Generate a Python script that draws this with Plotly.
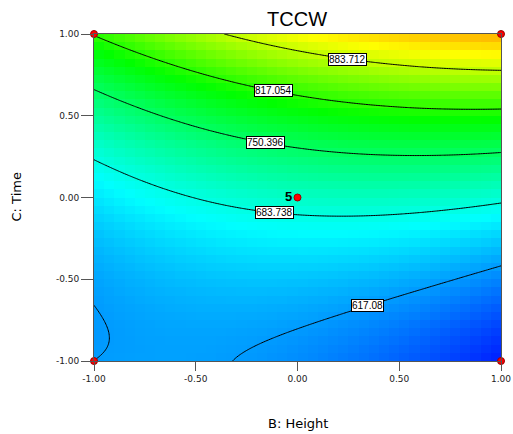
import numpy as np
import plotly.graph_objects as go

# Fitted quadratic response surface for TCCW in coded factors B (Height) and C (Time)
# TCCW = I + b*B + c*C + bc*B*C + bb*B^2 + cc*C^2
coef_I = 699.0
coef_B = 16.65
coef_C = 151.0
coef_BC = 50.0
coef_BB = -25.2
coef_CC = 61.0

contour_levels = [617.08, 683.738, 750.396, 817.054, 883.712]
label_B = [0.346, -0.115, -0.155, -0.12, 0.248]   # where each contour label sits along B

design_B = [-1, -1, 1, 1, 0]
design_C = [-1, 1, 1, -1, 0]
design_text = ["", "", "", "", "<b>5</b>"]

tick_vals = [-1, -0.5, 0, 0.5, 1]
tick_text = ["-1.00", "-0.50", "0.00", "0.50", "1.00"]


def model(B, C):
    return (coef_I + coef_B * B + coef_C * C + coef_BC * B * C
            + coef_BB * B ** 2 + coef_CC * C ** 2)


def solve_C(B, level):
    qa = coef_CC
    qb = coef_C + coef_BC * B
    qc = coef_I + coef_B * B + coef_BB * B ** 2 - level
    roots = np.roots([qa, qb, qc])
    roots = [r.real for r in roots if abs(r.imag) < 1e-9 and -1 <= r.real <= 1]
    return roots[0]


# blocky colour cells (like the original software's rendering)
ncell = 40
centers = -1 + (np.arange(ncell) + 0.5) * (2.0 / ncell)
BB, CC = np.meshgrid(centers, centers)
Zcell = model(BB, CC)

# fine grid for smooth contour lines
fine = np.linspace(-1, 1, 241)
FB, FC = np.meshgrid(fine, fine)
Zfine = model(FB, FC)

colorscale = [
    [0.0, "rgb(0,0,255)"],
    [0.267, "rgb(0,255,255)"],
    [0.525, "rgb(0,255,0)"],
    [0.743, "rgb(255,255,0)"],
    [1.0, "rgb(255,0,0)"],
]

fig = go.Figure()
fig.add_trace(go.Heatmap(
    x=centers, y=centers, z=Zcell, zmin=535, zmax=1040,
    colorscale=colorscale, showscale=False, zsmooth=False, hoverinfo="skip",
))
fig.add_trace(go.Contour(
    x=fine, y=fine, z=Zfine,
    contours=dict(start=contour_levels[0], end=contour_levels[-1] + 1e-6,
                  size=contour_levels[1] - contour_levels[0], coloring="lines"),
    colorscale=[[0, "black"], [1, "black"]], showscale=False,
    line=dict(width=1, color="black"), hoverinfo="skip",
))
fig.add_trace(go.Scatter(
    x=design_B, y=design_C, mode="markers+text", text=design_text,
    textposition="middle left",
    textfont=dict(family="Liberation Sans, Arial", size=13, color="black"),
    marker=dict(size=7, color="red", line=dict(color="#900", width=1)),
    cliponaxis=False, hoverinfo="skip", showlegend=False,
))

annotations = []
for lev, lb in zip(contour_levels, label_B):
    lc = solve_C(lb, lev)
    annotations.append(dict(
        x=lb, y=lc, xref="x", yref="y", text="%g" % lev, showarrow=False,
        bgcolor="white", bordercolor="black", borderwidth=1, borderpad=0,
        font=dict(family="Liberation Sans, Arial", size=10, color="black"),
    ))

annotations.append(dict(
    x=0.5, y=0, xref="paper", yref="paper", yshift=-62, text="B: Height",
    showarrow=False, yanchor="middle", xanchor="center",
    font=dict(family="DejaVu Sans", size=13, color="black"),
))
annotations.append(dict(
    x=0, y=0.5, xref="paper", yref="paper", xshift=-78, text="C: Time",
    showarrow=False, textangle=-90, yanchor="middle", xanchor="center",
    font=dict(family="DejaVu Sans", size=13, color="black"),
))

axis_common = dict(
    range=[-1, 1], tickvals=tick_vals, ticktext=tick_text, ticks="outside",
    tickcolor="#555", showline=True, mirror=True, linecolor="#555", linewidth=1,
    showgrid=False, zeroline=False, automargin=False,
    tickfont=dict(family="DejaVu Sans", size=9, color="#222"),
)

fig.update_layout(
    width=513, height=434,
    margin=dict(l=94, r=12, t=34, b=73, autoexpand=False),
    paper_bgcolor="white", plot_bgcolor="white",
    title=dict(text="TCCW", x=0.579, xanchor="center", y=0.956, yanchor="middle",
               font=dict(family="Liberation Sans, Arial", size=20, color="black")),
    xaxis=dict(**axis_common, ticklen=9),
    yaxis=dict(**axis_common, ticklen=12),
    annotations=annotations,
    showlegend=False,
)

fig.write_html("out.html")
